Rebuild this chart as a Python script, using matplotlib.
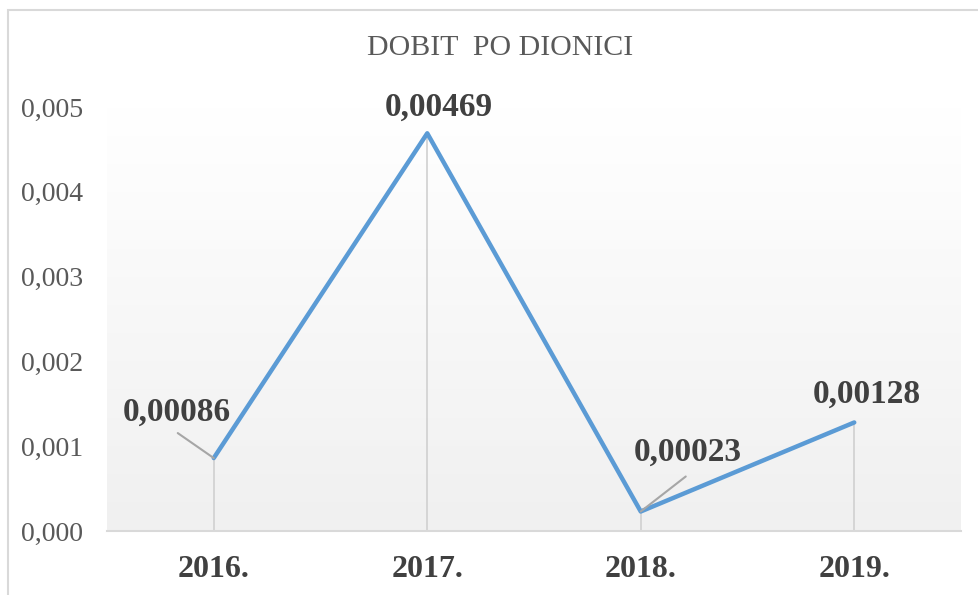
import matplotlib
matplotlib.use("Agg")
import matplotlib.pyplot as plt
import numpy as np
from matplotlib.patches import Rectangle
from matplotlib.ticker import FixedLocator

years = ["2016.", "2017.", "2018.", "2019."]
values = [0.00086, 0.00469, 0.00023, 0.00128]
labels = ["0,00086", "0,00469", "0,00023", "0,00128"]
yticks = [0.0, 0.001, 0.002, 0.003, 0.004, 0.005]
yticklabels = ["0,000", "0,001", "0,002", "0,003", "0,004", "0,005"]

plt.rcParams['font.family'] = ['Liberation Serif', 'DejaVu Serif']

W, H = 979, 595
fig = plt.figure(figsize=(W/100, H/100), dpi=100)
fig.patch.set_facecolor("white")

# outer frame
fig.patches.append(Rectangle((8/W, -0.1), 1.2, 1 - 10/H + 0.1, transform=fig.transFigure,
                             fill=False, edgecolor="#d9d9d9", linewidth=1.5))

left, right, top, bottom = 107, 961, 107, 531
ax = fig.add_axes([left/W, 1 - bottom/H, (right-left)/W, (bottom-top)/H])

# gradient background
grad = np.linspace(0, 1, 256).reshape(-1, 1)
top_c = np.array([1.0, 1.0, 1.0])
bot_c = np.array([0xf0, 0xf0, 0xf0]) / 255
img = top_c * (1 - grad[..., None]) + bot_c * grad[..., None]
img = img.reshape(256, 1, 3)
ax.imshow(img, extent=[-0.5, 3.5, 0, 0.005], aspect='auto', origin='upper', zorder=0)
ax.set_xlim(-0.5, 3.5)
ax.set_ylim(0, 0.005)

x = np.arange(len(years))
ax.vlines(x, 0, values, color="#d0d0d0", linewidth=1.2, zorder=1)
ax.plot(x, values, color="#5b9bd5", linewidth=3.2, solid_capstyle='round', zorder=3)

for s in ["top", "right", "left"]:
    ax.spines[s].set_visible(False)
ax.spines["bottom"].set_color("#d9d9d9")
ax.spines["bottom"].set_linewidth(1.5)

ax.yaxis.set_major_locator(FixedLocator(yticks))
ax.set_yticklabels(yticklabels, fontsize=20, color="#595959")
ax.set_xticks(x)
ax.set_xticklabels(years, fontsize=23, fontweight='bold', color="#404040")
ax.tick_params(axis='y', length=0, pad=17)
ax.tick_params(axis='x', length=0, pad=17)

fig.text(500/W, 1 - 48/H, "DOBIT  PO DIONICI", ha='center', va='center',
         fontsize=21.5, color="#595959")

# data labels (offsets in pixels)
k = 72/100
offsets = [(-37, 46), (12, 26), (47, 59), (13, 28)]
for xi, v, lab, (dx, dy) in zip(x, values, labels, offsets):
    ax.annotate(lab, (xi, v), xytext=(dx*k, dy*k), textcoords='offset points',
                ha='center', va='center', fontsize=24, fontweight='bold',
                color="#404040", zorder=5, annotation_clip=False)

# leader lines
lead = [(0, (-36, 25)), (2, (45, 35))]
for i, (dx, dy) in lead:
    ax.annotate("", (x[i], values[i]), xytext=(dx*k, dy*k), textcoords='offset points',
                arrowprops=dict(arrowstyle='-', color="#a6a6a6", linewidth=1.5,
                                shrinkA=0, shrinkB=0), zorder=4)

fig.savefig("out.png", dpi=100)
